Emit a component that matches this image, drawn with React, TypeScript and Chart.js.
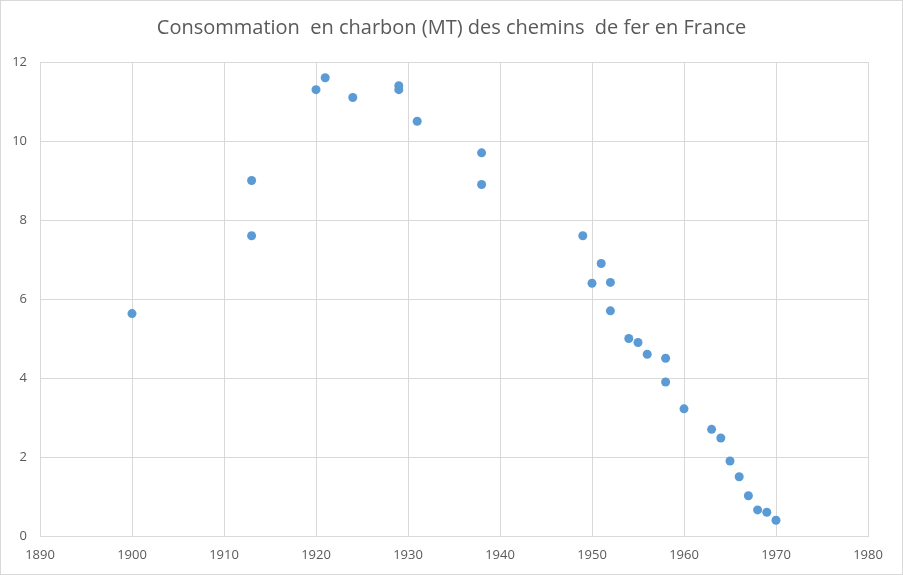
import React, { useEffect, useRef } from "react";
import { Chart, registerables } from "chart.js";

Chart.register(...registerables);

const chartTitle = "Consommation  en charbon (MT) des chemins  de fer en France";

const years = [
  1900, 1913, 1913, 1920, 1921, 1924, 1929, 1929, 1931, 1938, 1938,
  1949, 1950, 1951, 1952, 1952, 1954, 1955, 1956, 1958, 1958, 1960,
  1963, 1964, 1965, 1966, 1967, 1968, 1969, 1970,
];

const consumption = [
  5.63, 9.0, 7.6, 11.3, 11.6, 11.1, 11.4, 11.3, 10.5, 9.7, 8.9,
  7.6, 6.4, 6.9, 6.42, 5.7, 5.0, 4.9, 4.6, 4.5, 3.9, 3.22,
  2.7, 2.48, 1.9, 1.5, 1.02, 0.66, 0.6, 0.4,
];

const xMin = 1890;
const xMax = 1980;
const xStep = 10;
const yMin = 0;
const yMax = 12;
const yStep = 2;

const fontFamily = "'Open Sans', 'Noto Sans', sans-serif";

const centerTitlePlugin = {
  id: "centerTitle",
  afterLayout(chart: any) {
    const tb = chart.titleBlock;
    if (tb) {
      tb.left = 0;
      tb.right = chart.width;
      tb.width = chart.width;
    }
  },
};

export default function App() {
  const ref = useRef<HTMLCanvasElement | null>(null);

  useEffect(() => {
    document.body.style.margin = "0";
    const canvas = ref.current;
    if (!canvas) return;
    const points = years.map((x, i) => ({ x, y: consumption[i] }));
    const chart = new Chart(canvas, {
      type: "scatter",
      data: {
        datasets: [
          {
            label: "Consommation",
            data: points,
            backgroundColor: "#5B9BD5",
            borderColor: "#5B9BD5",
            borderWidth: 0,
            pointRadius: 4.5,
          },
        ],
      },
      plugins: [centerTitlePlugin],
      options: {
        responsive: false,
        animation: false,
        devicePixelRatio: 1,
        layout: { padding: { left: 0, right: 34, top: 0, bottom: 0 } },
        plugins: {
          legend: { display: false },
          tooltip: { enabled: false },
          title: {
            display: true,
            text: chartTitle,
            color: "#595959",
            font: { family: fontFamily, size: 20, weight: "normal" },
            padding: { top: 15, bottom: 22 },
          },
        },
        scales: {
          x: {
            type: "linear",
            min: xMin,
            max: xMax,
            ticks: {
              stepSize: xStep,
              color: "#595959",
              font: { family: fontFamily, size: 13 },
              padding: 11,
              maxRotation: 0,
              callback: (v: any) => String(v),
            },
            grid: { color: "#d9d9d9", drawTicks: false, lineWidth: 1 },
            border: { color: "#d9d9d9" },
            afterFit: (scale: any) => {
              scale.height = 38;
            },
          },
          y: {
            type: "linear",
            min: yMin,
            max: yMax,
            ticks: {
              stepSize: yStep,
              color: "#595959",
              font: { family: fontFamily, size: 13 },
              padding: 13,
              callback: (v: any) => String(v),
            },
            grid: { color: "#d9d9d9", drawTicks: false, lineWidth: 1 },
            border: { display: false },
            afterFit: (scale: any) => {
              scale.width = 39;
            },
          },
        },
      },
    });
    return () => chart.destroy();
  }, []);

  return (
    <div
      style={{
        width: 903,
        height: 575,
        boxSizing: "border-box",
        border: "1px solid #d9d9d9",
        background: "#ffffff",
      }}
    >
      <canvas ref={ref} width={901} height={573} style={{ display: "block" }} />
    </div>
  );
}
